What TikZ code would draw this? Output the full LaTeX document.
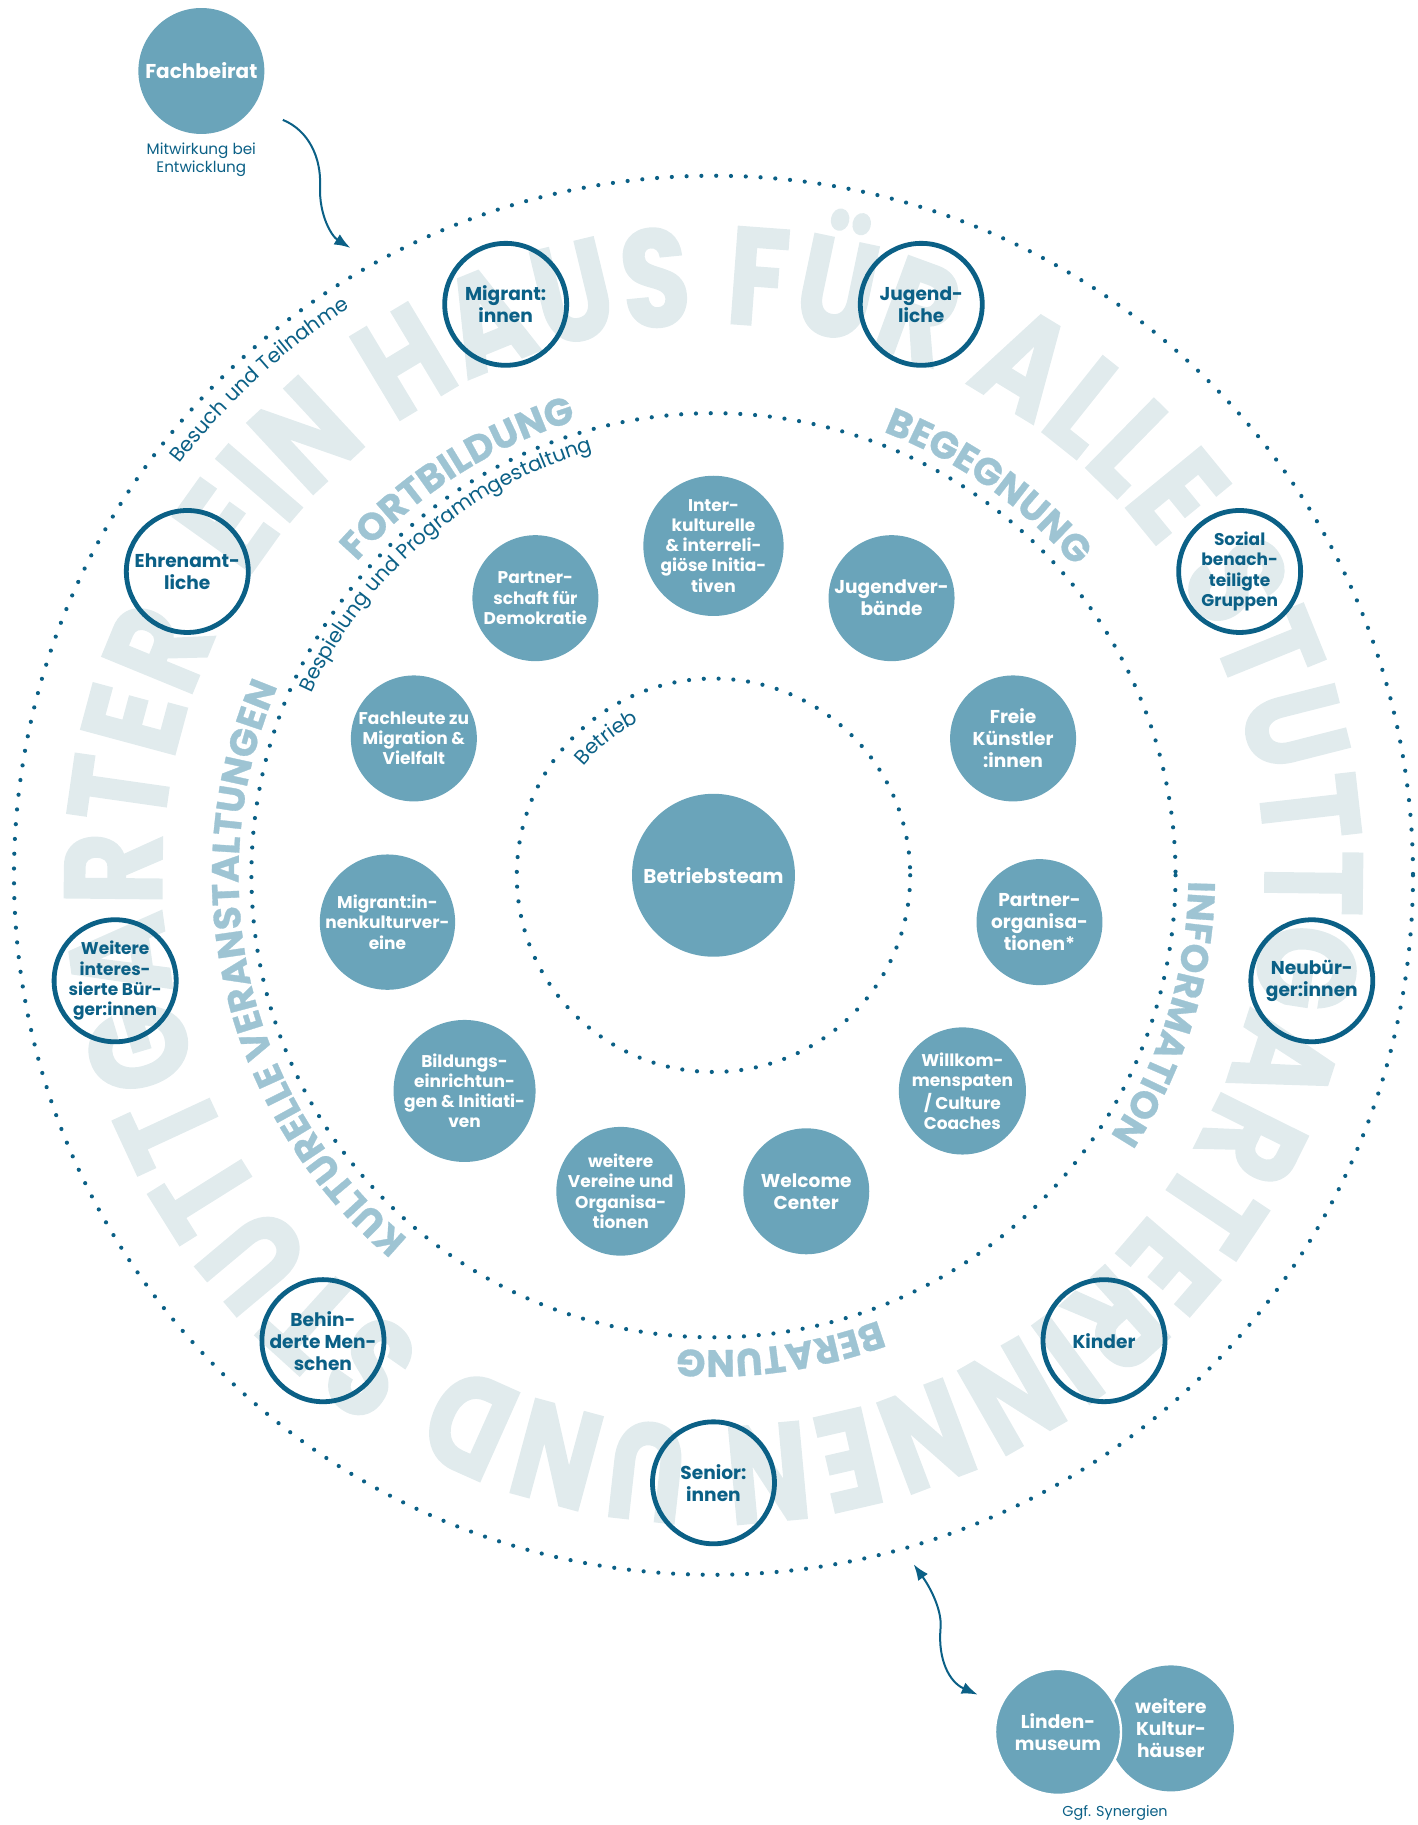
\documentclass[tikz,border=0pt]{standalone}
\usepackage{fontspec}
\setmainfont{Poppins}
\newfontfamily\bigringfont[FakeStretch=0.8,FakeBold=1.5]{Poppins}
\newfontfamily\ringlabelfont[FakeBold=0.8]{Poppins}
\usetikzlibrary{arrows.meta,decorations.text}

\definecolor{hausblue}{RGB}{11,96,134}
\definecolor{hausfill}{RGB}{106,164,186}
\definecolor{hauslabel}{RGB}{158,196,211}
\definecolor{hausgrey}{RGB}{225,235,237}

\tikzset{
  dotring/.style={draw=hausblue, line width=2.1pt, line cap=round, dash pattern=on 0pt off 7.4pt},
  group/.style={circle, draw=hausblue, line width=2.4pt, minimum size=61pt, inner sep=0pt,
    align=center, text=hausblue},
  partner/.style={circle, fill=hausfill, minimum size=63pt, inner sep=0pt,
    align=center, text=white},
  roomy/.style={font=\bfseries\fontsize{9.3}{11}\selectfont},
  dense/.style={font=\bfseries\fontsize{8.5}{10.1}\selectfont},
  note/.style={text=hausblue, align=center, font=\fontsize{7.6}{7.6}\selectfont},
  link/.style={draw=hausblue, line width=1pt, -{Latex[length=8pt,width=6pt]}},
  ringlabel/.style={decorate, decoration={text along path, text align=center,
    text color=hauslabel, text={|\ringlabelfont\bfseries\fontsize{19}{19}\selectfont|#1}}},
  ringnote/.style={decorate, decoration={text along path, text align=center,
    text color=hausblue, text={|\fontsize{10.2}{10.2}\selectfont|#1}}},
}

\begin{document}
\begin{tikzpicture}[x=0.5821pt,y=-0.5821pt]
\useasboundingbox (0,0) rectangle (1218,1568);
\coordinate (hub) at (613,752);

\begin{scope}[shift={(hub)}]
  % lettering behind the rings
  \path[decorate, decoration={text along path, text align=fit to path, text color=hausgrey,
      text={|\bigringfont\bfseries\fontsize{69}{69}\selectfont|EIN HAUS FÜR ALLE STUTTGARTERINNEN UND STUTTGARTER}}]
    (212.5:474) arc[start angle=212.5, end angle=566, radius=474];

  \draw[dotring] (0,0) circle[radius=169];
  \draw[dotring] (0,0) circle[radius=397];
  \draw[dotring] (0,0) circle[radius=601];

  \path[ringlabel=KULTURELLE VERANSTALTUNGEN] (116.75:408) arc[start angle=116.75, end angle=216.75, radius=408];
  \path[ringlabel=FORTBILDUNG] (217:408) arc[start angle=217, end angle=257.5, radius=408];
  \path[ringlabel=BEGEGNUNG] (285:408) arc[start angle=285, end angle=325.5, radius=408];
  \path[ringlabel=INFORMATION] (-3:408) arc[start angle=-3, end angle=37, radius=408];
  \path[ringlabel=BERATUNG] (62:408) arc[start angle=62, end angle=102, radius=408];

  \path[ringnote=Besuch und Teilnahme] (212.5:579) arc[start angle=212.5, end angle=242.5, radius=579];
  \path[ringnote=Bespielung und Programmgestaltung] (199:379) arc[start angle=199, end angle=259.5, radius=379];
  \path[ringnote=Betrieb] (212:146) arc[start angle=212, end angle=252, radius=146];

  % inner circle of partners
  \foreach \nm/\sz/\txt [count=\k from 0] in {
      initiativen/dense/{Inter-\\kulturelle\\\& interreli-\\giöse Initia-\\tiven},
      jugendverbaende/roomy/{Jugendver-\\bände},
      kuenstler/roomy/{Freie\\Künstler\\:innen},
      organisationen/roomy/{Partner-\\organisa-\\tionen*},
      willkommen/dense/{Willkom-\\menspaten\\/ Culture\\Coaches},
      welcome/roomy/{Welcome\\Center},
      vereine/dense/{weitere\\Vereine und\\Organisa-\\tionen},
      bildung/dense/{Bildungs-\\einrichtun-\\gen \& Initiati-\\ven},
      kulturvereine/dense/{Migrant:in-\\nenkulturver-\\eine},
      fachleute/dense/{Fachleute zu\\Migration \&\\Vielfalt},
      demokratie/dense/{Partner-\\schaft für\\Demokratie}}
    \node[partner,\sz] (\nm) at ({270+\k*360/11}:283) {\txt};

  % outer circle of visitor groups
  \foreach \nm/\sz/\txt [count=\k from 0] in {
      neubuerger/roomy/{Neubür-\\ger:innen},
      kinder/roomy/{Kinder},
      senioren/roomy/{Senior:\\innen},
      behinderte/roomy/{Behin-\\derte Men-\\schen},
      buerger/dense/{Weitere\\interes-\\sierte Bür-\\ger:innen},
      ehrenamt/roomy/{Ehrenamt-\\liche},
      migranten/roomy/{Migrant:\\innen},
      jugendliche/roomy/{Jugend-\\liche},
      sozial/dense/{Sozial\\benach-\\teiligte\\Gruppen}}
    \node[group,\sz] (\nm) at ({10+\k*40}:522) {\txt};
\end{scope}

\node[partner, minimum size=81.5pt, font=\bfseries\fontsize{10}{12}\selectfont] (team) at (hub) {Betriebsteam};

% advisory board
\node[partner, font=\bfseries\fontsize{10}{12}\selectfont] (fachbeirat) at (173,61) {Fachbeirat};
\node[note] (mitwirkung) at (173,137) {Mitwirkung bei\\Entwicklung};
\coordinate (beiratout) at (243,103);
\coordinate (beiratin) at (301,213);
\draw[link] (beiratout) .. controls (265,112) and (276,135) .. (275,160)
  .. controls (274,185) and (285,203) .. (beiratin);

% museums
\node[partner, roomy] (kulturhaeuser) at (1006,1485) {weitere\\Kultur-\\häuser};
\node[partner, roomy, draw=white, line width=1.2pt] (lindenmuseum) at (909,1488) {Linden-\\museum};
\node[note, font=\fontsize{7.2}{8}\selectfont] (synergien) at (958,1558) {Ggf. Synergien};
\coordinate (ringsouth) at (785,1344);
\coordinate (museumnorth) at (840,1456);
\draw[link, {Latex[length=8pt,width=6pt]}-{Latex[length=8pt,width=6pt]}] (ringsouth)
  .. controls (800,1365) and (810,1385) .. (808,1400)
  .. controls (806,1425) and (815,1445) .. (museumnorth);
\end{tikzpicture}
\end{document}
